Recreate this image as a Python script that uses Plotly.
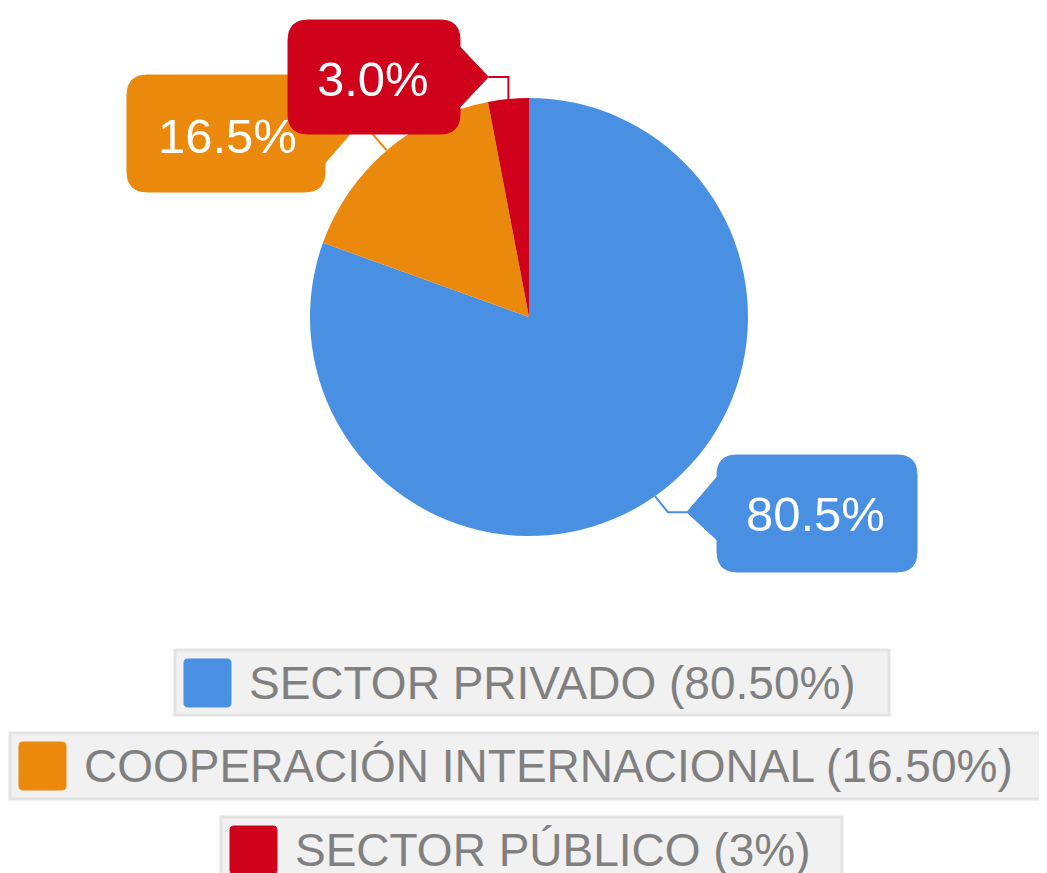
import math
import plotly.graph_objects as go

# ---------------- data ----------------
labels = ["SECTOR PRIVADO", "COOPERACIÓN INTERNACIONAL", "SECTOR PÚBLICO"]
values = [80.5, 16.5, 3.0]
legend_pct = ["80.50%", "16.50%", "3%"]
colors = ["#4A90E2", "#EA890C", "#D0021B"]

# ---------------- layout constants (pixels in the page) ----------------
OFF = 8                      # default page body margin
W, H = 1047, 873
CX, CY, R = 529, 317, 219
FONT = "Liberation Sans, Arial, sans-serif"


def X(x):
    return (x - OFF) / W


def Y(y):
    return 1 - (y - OFF) / H


fig = go.Figure()
fig.add_trace(go.Pie(
    labels=labels, values=values, sort=False, direction="clockwise", rotation=0,
    marker=dict(colors=colors, line=dict(width=0)),
    textinfo="none", hoverinfo="label+percent", showlegend=False,
    domain=dict(x=[X(CX - R), X(CX + R)], y=[Y(CY + R), Y(CY - R)]),
))

# slice edge points from data
total = sum(values)
edge = []
cum = 0.0
for v in values:
    th = 2 * math.pi * (cum + v / 2) / total
    edge.append((CX + R * math.sin(th), CY - R * math.cos(th)))
    cum += v


def pt(x, y):
    return f"{X(x):.6f},{Y(y):.6f}"


def rounded_box_path(x0, y0, x1, y1, r, side, ptr):
    """ptr = (base_a, base_b, tip_x, tip_y); side 'left', 'right' or 'none'"""
    ba, bb, tx, ty = ptr
    cmds = ["M" + pt(x0 + r, y0), "L" + pt(x1 - r, y0),
            "Q" + pt(x1, y0) + " " + pt(x1, y0 + r)]
    if side == "right":
        cmds += ["L" + pt(x1, ba), "L" + pt(tx, ty), "L" + pt(x1, bb)]
    cmds += ["L" + pt(x1, y1 - r), "Q" + pt(x1, y1) + " " + pt(x1 - r, y1),
             "L" + pt(x0 + r, y1), "Q" + pt(x0, y1) + " " + pt(x0, y1 - r)]
    if side == "left":
        cmds += ["L" + pt(x0, bb), "L" + pt(tx, ty), "L" + pt(x0, ba)]
    cmds += ["L" + pt(x0, y0 + r), "Q" + pt(x0, y0) + " " + pt(x0 + r, y0), "Z"]
    return " ".join(cmds)


def line_path(points):
    return "M" + " L".join(pt(x, y) for x, y in points)


ex0, ey0 = edge[0]   # blue
ex1, ey1 = edge[1]   # orange
ex2, ey2 = edge[2]   # red

callouts = [
    dict(box=(717, 455, 917, 572), side="left", ptr=(477, 540, ex0 + 32, ey0 + 16),
         conn=[(ex0 + 32, ey0 + 16), (ex0 + 13, ey0 + 16), (ex0, ey0)],
         text_xy=(815, 514)),
    dict(box=(127, 75, 325, 192), side="right", ptr=(100, 163, ex1 - 32, ey1 - 22),
         conn=[(ex1 - 32, ey1 - 22), (ex1 - 19, ey1 - 22), (ex1, ey1)],
         text_xy=(227, 136)),
    dict(box=(288, 20, 460, 134), side="right", ptr=(47, 107, ex2 - 20, ey2 - 22),
         conn=[(ex2 - 20, ey2 - 22), (ex2, ey2 - 22), (ex2, ey2)],
         text_xy=(373, 79)),
]

shapes = []
annotations = []
for i in [0, 1, 2]:
    c = callouts[i]
    x0, y0, x1, y1 = c["box"]
    shapes.append(dict(type="path", xref="paper", yref="paper",
                       path=line_path(c["conn"]),
                       line=dict(color=colors[i], width=2), layer="above"))
    shapes.append(dict(type="path", xref="paper", yref="paper",
                       path=rounded_box_path(x0, y0, x1, y1, 20, c["side"], c["ptr"]),
                       fillcolor=colors[i], line=dict(color=colors[i], width=1),
                       layer="above"))
    tx, ty = c["text_xy"]
    annotations.append(dict(x=X(tx), y=Y(ty), xref="paper", yref="paper",
                            text=f"{values[i]:.1f}%", showarrow=False,
                            xanchor="center", yanchor="middle",
                            font=dict(family=FONT, size=49, color="white")))

# legend boxes
legend_boxes = [(175, 650, 889, 715), (10, 733, 1070, 799), (221, 817, 842, 895)]
for i, (x0, y0, x1, y1) in enumerate(legend_boxes):
    shapes.append(dict(type="rect", xref="paper", yref="paper",
                       x0=X(x0), x1=X(x1), y0=Y(y1), y1=Y(y0),
                       fillcolor="#F1F1F1", line=dict(color="#E3E3E3", width=3),
                       layer="above"))
    sx0, sy0 = x0 + 9, y0 + 9
    shapes.append(dict(type="path", xref="paper", yref="paper",
                       path=rounded_box_path(sx0, sy0, sx0 + 47, sy0 + 48, 4, "none", (0, 0, 0, 0)),
                       fillcolor=colors[i], line=dict(color=colors[i], width=1),
                       layer="above"))
    annotations.append(dict(x=X(x0 + 72), y=Y(y0 + 33),
                            xref="paper", yref="paper",
                            text=f"{labels[i]} ({legend_pct[i]})", showarrow=False,
                            xanchor="left", yanchor="middle",
                            font=dict(family=FONT, size=46, color="#808080")))

fig.update_layout(
    width=W, height=H,
    margin=dict(l=0, r=0, t=0, b=0),
    paper_bgcolor="white", plot_bgcolor="white",
    shapes=shapes, annotations=annotations,
    showlegend=False,
)

fig.write_html("out.html", config={"displayModeBar": False})
